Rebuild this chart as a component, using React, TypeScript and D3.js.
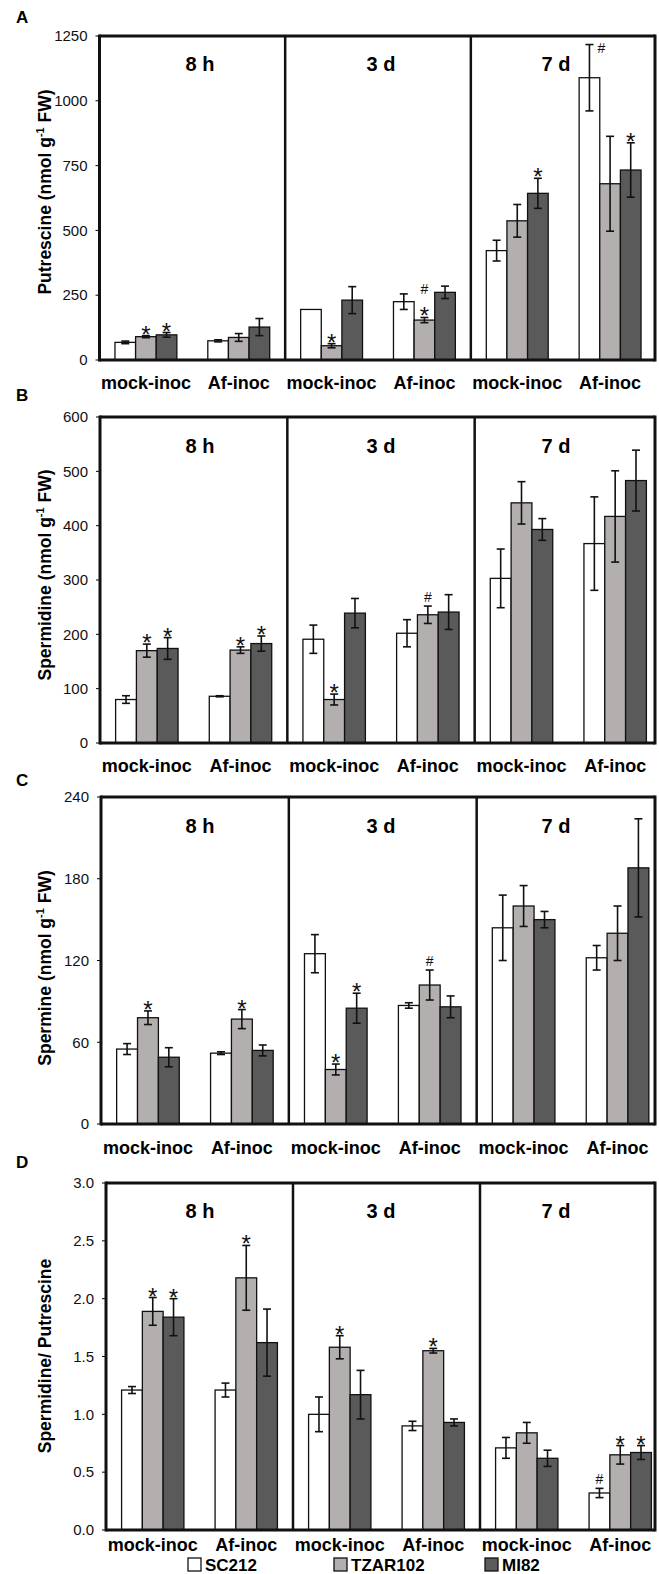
import React from "react";
import * as d3 from "d3";

// ---------- data ----------
const categories = ["mock-inoc", "Af-inoc", "mock-inoc", "Af-inoc", "mock-inoc", "Af-inoc"];
const timePoints = ["8 h", "3 d", "7 d"];
const genotypes = ["SC212", "TZAR102", "MI82"];

// A: Putrescine
const putSC212 = [68, 74, 195, 225, 422, 1089];
const putSC212Err = [5, 4, 0, 30, 40, 128];
const putTZAR102 = [90, 87, 55, 154, 537, 680];
const putTZAR102Err = [4, 15, 8, 10, 63, 183];
const putMI82 = [97, 127, 231, 261, 643, 733];
const putMI82Err = [9, 33, 52, 24, 58, 105];
const putMarksSC212 = ["", "", "", "", "", "#>"];
const putMarksTZAR102 = ["*", "", "*", "*#", "", ""];
const putMarksMI82 = ["*", "", "", "", "*", "*"];
const putTicks = [0, 250, 500, 750, 1000, 1250];

// B: Spermidine
const spdSC212 = [80, 86, 191, 202, 303, 367];
const spdSC212Err = [7, 1, 26, 25, 54, 86];
const spdTZAR102 = [170, 171, 80, 236, 442, 417];
const spdTZAR102Err = [12, 6, 10, 16, 39, 84];
const spdMI82 = [174, 183, 239, 241, 393, 483];
const spdMI82Err = [20, 14, 27, 32, 20, 56];
const spdMarksSC212 = ["", "", "", "", "", ""];
const spdMarksTZAR102 = ["*", "*", "*", "#", "", ""];
const spdMarksMI82 = ["*", "*", "", "", "", ""];
const spdTicks = [0, 100, 200, 300, 400, 500, 600];

// C: Spermine
const spmSC212 = [55, 52, 125, 87, 144, 122];
const spmSC212Err = [4, 1, 14, 2, 24, 9];
const spmTZAR102 = [78, 77, 40, 102, 160, 140];
const spmTZAR102Err = [5, 7, 4, 11, 15, 20];
const spmMI82 = [49, 54, 85, 86, 150, 188];
const spmMI82Err = [7, 4, 11, 8, 6, 36];
const spmMarksSC212 = ["", "", "", "", "", ""];
const spmMarksTZAR102 = ["*", "*", "*", "#", "", ""];
const spmMarksMI82 = ["", "", "*", "", "", ""];
const spmTicks = [0, 60, 120, 180, 240];

// D: Spermidine / Putrescine ratio
const ratSC212 = [1.21, 1.21, 1.0, 0.9, 0.71, 0.32];
const ratSC212Err = [0.03, 0.06, 0.15, 0.04, 0.09, 0.04];
const ratTZAR102 = [1.89, 2.18, 1.58, 1.55, 0.84, 0.65];
const ratTZAR102Err = [0.12, 0.28, 0.1, 0.02, 0.09, 0.08];
const ratMI82 = [1.84, 1.62, 1.17, 0.93, 0.62, 0.67];
const ratMI82Err = [0.16, 0.29, 0.21, 0.03, 0.07, 0.06];
const ratMarksSC212 = ["", "", "", "", "", "#"];
const ratMarksTZAR102 = ["*", "*", "*", "*", "", "*"];
const ratMarksMI82 = ["*", "", "", "", "", "*"];
const ratTicks = [0, 0.5, 1.0, 1.5, 2.0, 2.5, 3.0];

// ---------- styling ----------
const FONT = "'Liberation Sans', Arial, Helvetica, sans-serif";
const fills = ["#ffffff", "#b3afaf", "#5a5a5a"];

type Panel = {
  letter: string;
  letterY: number;
  titleMain: string;
  titleUnit: boolean;
  titleY: number;
  values: number[][];
  errors: number[][];
  marks: string[][];
  ticks: number[];
  fmt: (v: number) => string;
  left: number;
  xRight: number;
  top: number;
  bottom: number;
  timeY: number;
  catY: number;
};

const panels: Panel[] = [
  {
    letter: "A", letterY: 23, titleMain: "Putrescine (nmol g", titleUnit: true, titleY: 192,
    values: [putSC212, putTZAR102, putMI82], errors: [putSC212Err, putTZAR102Err, putMI82Err],
    marks: [putMarksSC212, putMarksTZAR102, putMarksMI82], ticks: putTicks, fmt: d3.format("d"),
    left: 99.5, xRight: 656.5, top: 36, bottom: 360, timeY: 71, catY: 389,
  },
  {
    letter: "B", letterY: 401, titleMain: "Spermidine (nmol g", titleUnit: true, titleY: 575,
    values: [spdSC212, spdTZAR102, spdMI82], errors: [spdSC212Err, spdTZAR102Err, spdMI82Err],
    marks: [spdMarksSC212, spdMarksTZAR102, spdMarksMI82], ticks: spdTicks, fmt: d3.format("d"),
    left: 100, xRight: 662, top: 417, bottom: 743, timeY: 453, catY: 772,
  },
  {
    letter: "C", letterY: 786, titleMain: "Spermine (nmol g", titleUnit: true, titleY: 968,
    values: [spmSC212, spmTZAR102, spmMI82], errors: [spmSC212Err, spmTZAR102Err, spmMI82Err],
    marks: [spmMarksSC212, spmMarksTZAR102, spmMarksMI82], ticks: spmTicks, fmt: d3.format("d"),
    left: 101, xRight: 664.5, top: 797, bottom: 1124, timeY: 833, catY: 1154,
  },
  {
    letter: "D", letterY: 1168, titleMain: "Spermidine/ Putrescine", titleUnit: false, titleY: 1356,
    values: [ratSC212, ratTZAR102, ratMI82], errors: [ratSC212Err, ratTZAR102Err, ratMI82Err],
    marks: [ratMarksSC212, ratMarksTZAR102, ratMarksMI82], ticks: ratTicks, fmt: d3.format(".1f"),
    left: 106, xRight: 667, top: 1183, bottom: 1530, timeY: 1218, catY: 1551,
  },
];

const FRAME_RIGHT = 655;
const timeX = [200, 381, 556];

function PanelView({ p }: { p: Panel }) {
  const y = d3.scaleLinear().domain([p.ticks[0], p.ticks[p.ticks.length - 1]]).range([p.bottom, p.top]);
  const x0 = d3.scaleBand<number>().domain(d3.range(categories.length)).range([p.left, p.xRight]).paddingInner(0).paddingOuter(0);
  const x1 = d3.scaleBand<string>().domain(genotypes).range([0, x0.step()]).paddingInner(0).paddingOuter(0.75);
  const bw = x1.bandwidth();
  const capW = 8;
  const dividers = [2, 4].map((i) => p.left + x0.step() * i);

  return (
    <g>
      <text x={16} y={p.letterY} fontFamily={FONT} fontWeight="bold" fontSize={17}>{p.letter}</text>
      <text
        transform={`translate(51,${p.titleY}) rotate(-90)`}
        textAnchor="middle"
        fontFamily={FONT}
        fontWeight="bold"
        fontSize={17.5}
      >
        {p.titleMain}
        {p.titleUnit ? (
          <>
            <tspan fontSize={11} dy={-7}>-1</tspan>
            <tspan dy={7}> FW)</tspan>
          </>
        ) : null}
      </text>
      {p.ticks.map((t) => (
        <g key={t}>
          <line x1={p.left - 4} x2={p.left} y1={y(t)} y2={y(t)} stroke="#000" strokeWidth={1} />
          <text x={p.left - 12} y={y(t)} dy="0.35em" textAnchor="end" fontFamily={FONT} fontSize={15} fill="#111">
            {p.fmt(t)}
          </text>
        </g>
      ))}
      {categories.map((c, ci) => (
        <g key={ci}>
          {genotypes.map((g, gi) => {
            const v = p.values[gi][ci];
            const e = p.errors[gi][ci];
            const bx = (x0(ci) as number) + (x1(g) as number);
            const cx = bx + bw / 2;
            const yTop = y(v);
            const capTop = y(v + e);
            const mark = p.marks[gi][ci];
            return (
              <g key={g}>
                <rect x={bx} y={yTop} width={bw} height={p.bottom - yTop} fill={fills[gi]} stroke="#111" strokeWidth={1.3} />
                {e > 0 ? (
                  <g stroke="#111" strokeWidth={1.6}>
                    <line x1={cx} x2={cx} y1={capTop} y2={y(v - e)} />
                    <line x1={cx - capW / 2} x2={cx + capW / 2} y1={capTop} y2={capTop} />
                    <line x1={cx - capW / 2} x2={cx + capW / 2} y1={y(v - e)} y2={y(v - e)} />
                  </g>
                ) : null}
                {mark === "*" || mark === "*#" ? (
                  <text x={cx} y={capTop + 7} textAnchor="middle" fontFamily={FONT} fontSize={24} fill="#111">*</text>
                ) : null}
                {mark === "*#" ? (
                  <text x={cx} y={capTop - 23} textAnchor="middle" fontFamily={FONT} fontSize={14} fill="#111">#</text>
                ) : null}
                {mark === "#" ? (
                  <text x={cx} y={capTop - 4} textAnchor="middle" fontFamily={FONT} fontSize={14} fill="#111">#</text>
                ) : null}
                {mark === "#>" ? (
                  <text x={cx + 12} y={capTop + 8} textAnchor="middle" fontFamily={FONT} fontSize={14} fill="#111">#</text>
                ) : null}
              </g>
            );
          })}
          <text x={(x0(ci) as number) + x0.step() / 2} y={p.catY} textAnchor="middle" fontFamily={FONT} fontWeight="bold" fontSize={18}>
            {c}
          </text>
        </g>
      ))}
      {dividers.map((d, i) => (
        <line key={i} x1={d} x2={d} y1={p.top} y2={p.bottom} stroke="#111" strokeWidth={2.5} />
      ))}
      <line x1={p.left} x2={FRAME_RIGHT} y1={p.top} y2={p.top} stroke="#111" strokeWidth={3} />
      <line x1={p.left} x2={FRAME_RIGHT} y1={p.bottom} y2={p.bottom} stroke="#111" strokeWidth={3} />
      <line x1={p.left} x2={p.left} y1={p.top - 1.5} y2={p.bottom + 1.5} stroke="#111" strokeWidth={3} />
      <line x1={FRAME_RIGHT} x2={FRAME_RIGHT} y1={p.top - 1.5} y2={p.bottom + 1.5} stroke="#111" strokeWidth={3} />
      {timePoints.map((t, i) => (
        <text key={t} x={timeX[i]} y={p.timeY} textAnchor="middle" fontFamily={FONT} fontWeight="bold" fontSize={20}>
          {t}
        </text>
      ))}
    </g>
  );
}

const legendX = [188, 334, 485];

export default function App() {
  return (
    <svg
      width={659}
      height={1574}
      viewBox="0 0 659 1574"
      style={{ position: "absolute", left: 0, top: 0, display: "block", background: "#fff" }}
    >
      <rect width={659} height={1574} fill="#fff" />
      {panels.map((p) => (
        <PanelView key={p.letter} p={p} />
      ))}
      {genotypes.map((g, i) => (
        <g key={g}>
          <rect x={legendX[i]} y={1558} width={13} height={13} fill={fills[i]} stroke="#111" strokeWidth={1.3} />
          <text x={legendX[i] + 17} y={1571} fontFamily={FONT} fontWeight="bold" fontSize={17}>{g}</text>
        </g>
      ))}
    </svg>
  );
}
